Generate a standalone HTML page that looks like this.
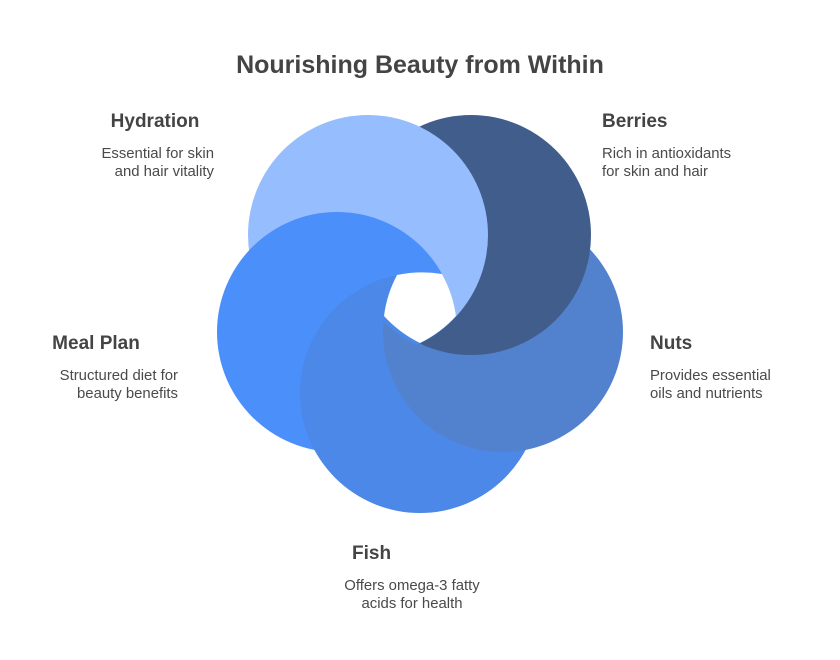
<!DOCTYPE html>
<html><head><meta charset="utf-8"><style>
body{margin:0;background:#fff;width:840px;height:660px;overflow:hidden}
svg{display:block}
text{font-family:"Liberation Sans",sans-serif;fill:#444}
.h{font-size:19px;font-weight:bold}
.d{font-size:14.9px;fill:#4a4a4a}
</style></head><body>
<svg width="840" height="660" viewBox="0 0 840 660">
<defs>
<clipPath id="cb"><circle cx="471" cy="235" r="120.6"/></clipPath>
<clipPath id="cb2"><circle cx="471" cy="235" r="123"/></clipPath>
<clipPath id="ch"><circle cx="368" cy="235" r="120"/></clipPath>
<clipPath id="cm"><circle cx="337" cy="332" r="120"/></clipPath>
</defs>
<text class="h" x="420" y="73" text-anchor="middle" style="font-size:25px">Nourishing Beauty from Within</text>
<circle cx="368" cy="235" r="120" fill="#96BDFE"/>
<circle cx="337" cy="332" r="120" fill="#4B8FFA"/>
<circle cx="420" cy="393" r="120" fill="#4B88E7"/>
<circle cx="503" cy="332" r="120" fill="#5282CE"/>
<circle cx="471" cy="235" r="120" fill="#415D8B"/>
<circle cx="368" cy="235" r="120" fill="#96BDFE" clip-path="url(#cb)"/>
<g clip-path="url(#ch)"><g clip-path="url(#cb2)">
<circle cx="337" cy="332" r="120" fill="#4B8FFA"/>
<g clip-path="url(#cm)"><circle cx="420" cy="393" r="120" fill="#4B88E7"/></g>
</g></g>
<path d="M397 275 A120 120 0 0 1 442 274 A120 120 0 0 1 456 316 A120 120 0 0 1 420 343 A120 120 0 0 1 384 316 A120 120 0 0 1 397 275Z" fill="#fff"/>
<text class="h" x="155" y="127" text-anchor="middle">Hydration</text>
<text class="d" x="214" y="158" text-anchor="end">Essential for skin</text>
<text class="d" x="214" y="176" text-anchor="end">and hair vitality</text>
<text class="h" x="602" y="127">Berries</text>
<text class="d" x="602" y="158">Rich in antioxidants</text>
<text class="d" x="602" y="176">for skin and hair</text>
<text class="h" x="96" y="349" text-anchor="middle">Meal Plan</text>
<text class="d" x="178" y="380" text-anchor="end">Structured diet for</text>
<text class="d" x="178" y="398" text-anchor="end">beauty benefits</text>
<text class="h" x="650" y="349">Nuts</text>
<text class="d" x="650" y="380">Provides essential</text>
<text class="d" x="650" y="398">oils and nutrients</text>
<text class="h" x="352" y="559">Fish</text>
<text class="d" x="412" y="590" text-anchor="middle">Offers omega-3 fatty</text>
<text class="d" x="412" y="608" text-anchor="middle">acids for health</text>
</svg>
</body></html>
